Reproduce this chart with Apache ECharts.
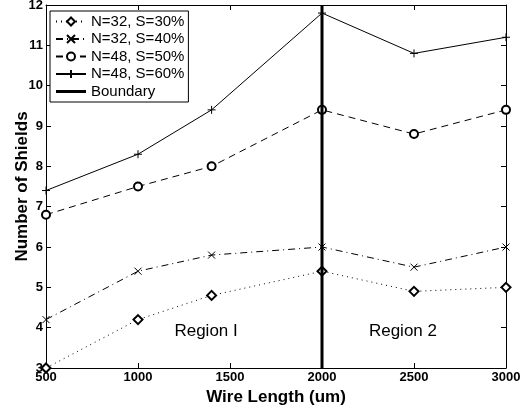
<!DOCTYPE html>
<html>
<head>
<meta charset="utf-8">
<script src="https://cdn.jsdelivr.net/npm/echarts@6/dist/echarts.min.js"></script>
<style>
  html, body { margin: 0; padding: 0; background: #fff; }
  #chart { width: 527px; height: 414px; }
</style>
</head>
<body>
<div id="chart"></div>
<script>
  const wireLength = [500, 1000, 1400, 2000, 2500, 3000];
  const n32s30 = [3.0, 4.2, 4.8, 5.4, 4.9, 5.0];
  const n32s40 = [4.2, 5.4, 5.8, 6.0, 5.5, 6.0];
  const n48s50 = [6.8, 7.5, 8.0, 9.4, 8.8, 9.4];
  const n48s60 = [7.4, 8.3, 9.4, 11.8, 10.8, 11.2];
  const boundaryX = 2000;
  const yRange = [3, 12];
  const regionLabels = [
    { name: 'Region I', coord: [1370, 3.9] },
    { name: 'Region 2', coord: [2440, 3.9] }
  ];

  const pair = ys => wireLength.map((x, i) => [x, ys[i]]);
  const crossPath = 'path://M0,0L10,10M10,0L0,10';
  const plusPath = 'path://M5,0L5,10M0,5L10,5';
  const barPath = 'path://M0,0L30,0L30,3L0,3Z';
  const font = 'Liberation Sans, Arial, sans-serif';

  const chart = echarts.init(document.getElementById('chart'));

  const lineSeries = (name, data, symbol, size, type) => ({
    name: name,
    type: 'line',
    data: pair(data),
    symbol: symbol,
    symbolSize: size,
    showAllSymbol: true,
    lineStyle: { color: '#000', width: 1, type: type },
    itemStyle: { color: '#000', borderColor: '#000', borderWidth: 1 },
    emphasis: { disabled: true },
    z: 3
  });

  const axisCommon = {
    type: 'value',
    axisLine: { show: true, lineStyle: { color: '#000', width: 1 } },
    axisTick: { show: true, inside: true, length: 5, lineStyle: { color: '#000' } },
    splitLine: { show: false }
  };

  chart.setOption({
    animation: false,
    textStyle: { fontFamily: font },
    grid: { left: 46, right: 21, top: 5, bottom: 46, outerBoundsMode: 'none', containLabel: false },
    legend: {
      left: 50,
      top: 11,
      orient: 'vertical',
      backgroundColor: '#fff',
      borderColor: '#000',
      borderWidth: 1,
      padding: [3, 4, 3, 5],
      itemGap: 2.5,
      itemWidth: 30,
      itemHeight: 10,
      textStyle: { fontSize: 15, lineHeight: 15, color: '#000', fontFamily: font },
      data: ['N=32, S=30%', 'N=32, S=40%', 'N=48, S=50%', 'N=48, S=60%',
        { name: 'Boundary', icon: barPath }]
    },
    xAxis: [Object.assign({}, axisCommon, {
      min: 500,
      max: 3000,
      interval: 500,
      name: 'Wire Length (um)',
      nameLocation: 'middle',
      nameGap: 21,
      nameMoveOverlap: false,
      nameTextStyle: { fontSize: 17, fontWeight: 'bold', color: '#000' },
      axisLabel: { color: '#000', fontSize: 13, fontWeight: 'bold', margin: 3, formatter: v => String(v) }
    }), Object.assign({}, axisCommon, {
      position: 'top',
      min: 500,
      max: 3000,
      interval: 500,
      axisLabel: { show: false }
    })],
    yAxis: [Object.assign({}, axisCommon, {
      min: yRange[0],
      max: yRange[1],
      interval: 1,
      name: 'Number of Shields',
      nameLocation: 'middle',
      nameGap: 15,
      nameMoveOverlap: false,
      nameTextStyle: { fontSize: 17, fontWeight: 'bold', color: '#000' },
      axisLabel: { color: '#000', fontSize: 13, fontWeight: 'bold', margin: 3 }
    }), Object.assign({}, axisCommon, {
      position: 'right',
      min: yRange[0],
      max: yRange[1],
      interval: 1,
      axisLabel: { show: false }
    })],
    series: [
      lineSeries('N=32, S=30%', n32s30, 'emptyDiamond', 9, [1, 4]),
      lineSeries('N=32, S=40%', n32s40, crossPath, 7, [7, 4, 1, 4]),
      lineSeries('N=48, S=50%', n48s50, 'emptyCircle', 8, [7, 5]),
      lineSeries('N=48, S=60%', n48s60, plusPath, 8, 'solid'),
      {
        name: 'Boundary',
        type: 'line',
        data: [[boundaryX, yRange[0]], [boundaryX, yRange[1]]],
        symbol: 'none',
        lineStyle: { color: '#000', width: 3 },
        itemStyle: { color: '#000' },
        emphasis: { disabled: true },
        z: 4,
        markPoint: {
          symbol: 'rect',
          symbolSize: 0,
          label: { show: true, color: '#000', fontSize: 17, fontFamily: font, formatter: '{b}' },
          data: regionLabels
        }
      }
    ]
  });
</script>
</body>
</html>
